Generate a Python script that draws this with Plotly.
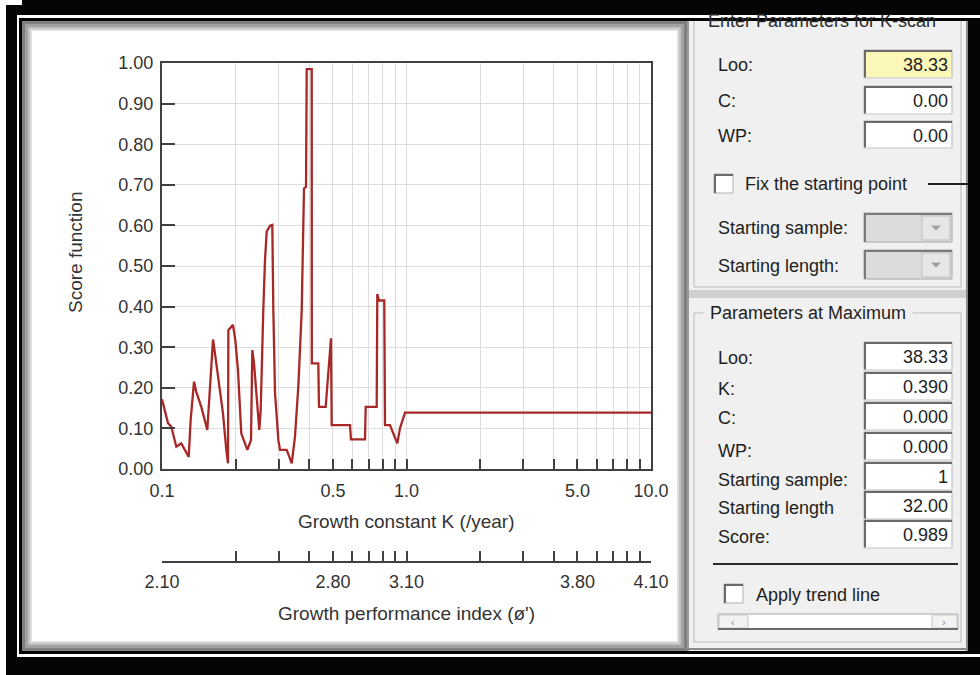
import plotly.graph_objects as go

W, H = 980, 675

# ---------------- data ----------------
K_VALUES = [0.1000, 0.1058, 0.1092, 0.1144, 0.1199, 0.1238, 0.1286, 0.1310, 0.1352, 0.1381,
            0.1448, 0.1532, 0.1567, 0.1591, 0.1617, 0.1643, 0.1694, 0.1776, 0.1832, 0.1862,
            0.1868, 0.1951, 0.1994, 0.2045, 0.2110, 0.2233, 0.2312, 0.2341, 0.2379, 0.2417,
            0.2463, 0.2500, 0.2533, 0.2557, 0.2596, 0.2638, 0.2681, 0.2765, 0.2826, 0.2853,
            0.2899, 0.2946, 0.2991, 0.3039, 0.3236, 0.3393, 0.3499, 0.3610, 0.3728, 0.3784,
            0.3809, 0.3882, 0.3907, 0.4096, 0.4100, 0.4358, 0.4386, 0.4672, 0.4716, 0.4788,
            0.4865, 0.4911, 0.4944, 0.5873, 0.5929, 0.6766, 0.6809, 0.7552, 0.7596, 0.7718,
            0.8112, 0.8166, 0.8559, 0.8831, 0.9170, 0.9405, 0.9703, 0.9860, 10.0]
SCORES = [0.172, 0.113, 0.104, 0.055, 0.063, 0.047, 0.030, 0.121, 0.215, 0.190,
          0.153, 0.096, 0.203, 0.268, 0.319, 0.289, 0.227, 0.137, 0.047, 0.014,
          0.342, 0.355, 0.318, 0.244, 0.088, 0.047, 0.071, 0.293, 0.260, 0.203,
          0.145, 0.096, 0.145, 0.260, 0.392, 0.515, 0.585, 0.599, 0.601, 0.392,
          0.187, 0.129, 0.071, 0.047, 0.047, 0.014, 0.080, 0.203, 0.392, 0.601,
          0.691, 0.695, 0.985, 0.985, 0.260, 0.260, 0.153, 0.153, 0.182, 0.236,
          0.293, 0.322, 0.108, 0.108, 0.073, 0.073, 0.153, 0.153, 0.431, 0.415,
          0.415, 0.108, 0.108, 0.088, 0.063, 0.100, 0.129, 0.139, 0.139]

Y_TICKS = [0.0, 0.1, 0.2, 0.3, 0.4, 0.5, 0.6, 0.7, 0.8, 0.9, 1.0]
Y_LABELS = ["0.00", "0.10", "0.20", "0.30", "0.40", "0.50", "0.60", "0.70", "0.80", "0.90", "1.00"]
K_TICKS = [0.1, 0.2, 0.3, 0.4, 0.5, 0.6, 0.7, 0.8, 0.9, 1, 2, 3, 4, 5, 6, 7, 8, 9, 10]
K_LABELS = ["0.1", "", "", "", "0.5", "", "", "", "", "1.0", "", "", "", "5.0", "", "", "", "", "10.0"]
PHI_LABELS = ["2.10", "", "", "", "2.80", "", "", "", "", "3.10", "", "", "", "3.80", "", "", "", "", "4.10"]

ENTER_LABELS = ["Loo:", "C:", "WP:"]
ENTER_VALUES = ["38.33", "0.00", "0.00"]
MAX_LABELS = ["Loo:", "K:", "C:", "WP:", "Starting sample:", "Starting length", "Score:"]
MAX_VALUES = ["38.33", "0.390", "0.000", "0.000", "1", "32.00", "0.989"]

FONT = "Liberation Sans, Arial, sans-serif"
TXT = "#333333"
AX = "#404040"
UI = 18

def X(p):
    return p / W

def Y(p):
    return 1 - p / H

shapes = []
annotations = []

def rect(x0, y0, x1, y1, fill, line=None, lw=0, layer="below"):
    shapes.append(dict(type="rect", xref="paper", yref="paper", x0=X(x0), x1=X(x1),
                       y0=Y(y1), y1=Y(y0), fillcolor=fill, layer=layer,
                       line=dict(color=line or fill, width=lw)))

def hline(x0, x1, y, color, lw=1, layer="below"):
    shapes.append(dict(type="line", xref="paper", yref="paper", x0=X(x0), x1=X(x1),
                       y0=Y(y), y1=Y(y), layer=layer, line=dict(color=color, width=lw)))

def vline(x, y0, y1, color, lw=1, layer="below"):
    shapes.append(dict(type="line", xref="paper", yref="paper", x0=X(x), x1=X(x),
                       y0=Y(y0), y1=Y(y1), layer=layer, line=dict(color=color, width=lw)))

def text(x, y, s, size=UI, color="#1e1e1e", xanchor="left", angle=0, bg=None):
    a = dict(xref="paper", yref="paper", x=X(x), y=Y(y), text=s, showarrow=False,
             xanchor=xanchor, yanchor="middle", textangle=angle,
             font=dict(family=FONT, size=size, color=color))
    if bg:
        a["bgcolor"] = bg
    annotations.append(a)

def tri_down(cx, cy, color):
    shapes.append(dict(type="path", xref="paper", yref="paper", layer="below",
                       path=f"M {X(cx-5)},{Y(cy-2)} L {X(cx+5)},{Y(cy-2)} L {X(cx)},{Y(cy+3)} Z",
                       fillcolor=color, line=dict(color=color, width=0)))

def textbox(x0, y0, x1, y1, fill, value):
    rect(x0, y0, x1, y1, fill, "#b4b4b4", 1)
    hline(x0, x1, y0 + 1, "#6a6a6a", 2)
    vline(x0 + 1, y0, y1, "#6a6a6a", 2)
    hline(x0, x1, y1, "#e6e6e6", 1)
    text(x1 - 2, (y0 + y1) / 2 + 1, value, xanchor="right")

def combo(x0, y0, x1, y1):
    rect(x0, y0, x1, y1, "#dcdcdc", "#a8a8a8", 1)
    hline(x0, x1, y0 + 1, "#7a7a7a", 2)
    vline(x0 + 1, y0, y1, "#7a7a7a", 2)
    rect(x1 - 30, y0 + 3, x1 - 2, y1 - 2, "#e6e6e6", "#c0c0c0", 1)
    tri_down(x1 - 16, (y0 + y1) / 2, "#a0a0a0")

def checkbox(x0, y0):
    rect(x0, y0, x0 + 19, y0 + 19, "#ffffff", "#b0b0b0", 1)
    hline(x0, x0 + 19, y0 + 1, "#6a6a6a", 2)
    vline(x0 + 1, y0, y0 + 19, "#6a6a6a", 2)

# ---------------- frame ----------------
rect(0, 0, 980, 675, "#ffffff")
rect(6, 5, 980, 675, "#050505")
hline(17, 980, 16.5, "#ffffff", 3)
vline(18, 16, 655, "#ffffff", 2)
hline(17, 980, 655.5, "#ffffff", 3)
# left panel bevel
rect(22, 21, 687, 651, "#7e7e7e")
rect(25, 24, 684, 648, "#a2a2a2")
rect(28, 27, 681, 645, "#c2c2c2")
rect(30, 29, 679, 643, "#dddddd")
rect(32, 31, 677, 641, "#ffffff")
# right panel
rect(687, 21, 968, 651, "#f0f0f0")
vline(688, 21, 651, "#9a9a9a", 2)
vline(967, 21, 651, "#8a8a8a", 2)
hline(687, 968, 649, "#8a8a8a", 2)

# group box 1 (Enter Parameters for K-scan)
vline(694, 21, 287, "#b9b9b9", 1)
vline(961, 21, 287, "#b9b9b9", 1)
hline(694, 961, 287, "#b9b9b9", 1)
rect(689, 290, 966, 298, "#d0d0d0")
text(706, 21, "Enter Parameters for K-scan", color="#2a2a2a")
rect(22, 0, 980, 15, "#050505", layer="above")

y_rows = [(50, 78), (86, 114), (121, 148)]
for lab, val, (a, b) in zip(ENTER_LABELS, ENTER_VALUES, y_rows):
    text(716, (a + b) / 2 + 1, lab)
    textbox(864, a, 952, b, "#fbf7b8" if lab == "Loo:" else "#ffffff", val)

checkbox(714, 174)
text(743, 184, "Fix the starting point")
hline(928, 968, 184, "#202020", 2)
text(716, 228, "Starting sample:")
combo(864, 213, 952, 242)
text(716, 266, "Starting length:")
combo(864, 250, 952, 279)

# group box 2 (Parameters at Maximum)
hline(694, 961, 313, "#b9b9b9", 1)
vline(694, 313, 642, "#b9b9b9", 1)
vline(961, 313, 642, "#b9b9b9", 1)
hline(694, 961, 642, "#b9b9b9", 1)
text(703, 313, " Parameters at Maximum ", bg="#f0f0f0")

max_rows = [(342, 370), (372, 400), (402, 430), (432, 460), (462, 490), (491, 519), (520, 548)]
label_dy = [2, 3, 2, 5, 4, 3, 3]
for lab, val, (a, b), d in zip(MAX_LABELS, MAX_VALUES, max_rows, label_dy):
    text(716, (a + b) / 2 + d, lab)
    textbox(864, a, 952, b, "#ffffff", val)

hline(713, 958, 564, "#2a2a2a", 2)
checkbox(724, 584)
text(754, 595, "Apply trend line")
rect(718, 614, 958, 629, "#ffffff", "#a8a8a8", 1)
rect(719, 615, 748, 628, "#f2f2f2", "#c8c8c8", 1)
rect(932, 615, 957, 628, "#f2f2f2", "#c8c8c8", 1)
hline(718, 958, 629, "#6a6a6a", 2)
text(733, 621.5, "‹", size=11, color="#909090", xanchor="center")
text(944, 621.5, "›", size=11, color="#909090", xanchor="center")

# chart titles
text(406, 521, "Growth constant K (/year)", size=19, color=TXT, xanchor="center")
text(406, 613, "Growth performance index (ø')", size=19, color=TXT, xanchor="center")
text(75, 253, "Score function", size=19, color=TXT, xanchor="center", angle=-90)

# ---------------- figure ----------------
fig = go.Figure()
fig.add_trace(go.Scatter(x=K_VALUES, y=SCORES, mode="lines",
                         line=dict(color="#a82828", width=2.3),
                         hoverinfo="x+y", showlegend=False))
fig.add_trace(go.Scatter(x=[K_TICKS[0], K_TICKS[-1]], y=[None, None], xaxis="x2",
                         mode="lines", showlegend=False, hoverinfo="skip"))

TICKFONT = dict(family=FONT, size=18, color=TXT)
XDOM = [X(162), X(651)]
fig.update_layout(
    width=W, height=H, autosize=False,
    margin=dict(l=0, r=0, t=0, b=0, pad=0, autoexpand=False),
    paper_bgcolor="#ffffff", plot_bgcolor="rgba(0,0,0,0)",
    font=dict(family=FONT, size=17, color=TXT),
    xaxis=dict(type="log", range=[-1, 1], domain=XDOM, anchor="y", automargin=False,
               showgrid=True, gridcolor="#dedede", gridwidth=1,
               showline=True, linecolor=AX, linewidth=2, mirror=True,
               ticks="inside", ticklen=10, tickwidth=2, tickcolor=AX,
               tickmode="array", tickvals=K_TICKS, ticktext=K_LABELS, tickfont=TICKFONT,
               ticklabelstandoff=4, zeroline=False),
    xaxis2=dict(type="log", range=[-1, 1], overlaying="x", anchor="free", automargin=False,
                position=Y(562), side="bottom", showgrid=False,
                showline=True, linecolor=AX, linewidth=2,
                ticks="inside", ticklen=10, tickwidth=2, tickcolor=AX,
                tickmode="array", tickvals=K_TICKS, ticktext=PHI_LABELS, tickfont=TICKFONT,
                ticklabelstandoff=3, zeroline=False),
    yaxis=dict(range=[0, 1], domain=[Y(469), Y(63)], anchor="x", automargin=False,
               showgrid=True, gridcolor="#dedede", gridwidth=1,
               showline=True, linecolor=AX, linewidth=2, mirror=True,
               ticks="inside", ticklen=13, tickwidth=2, tickcolor=AX,
               tickmode="array", tickvals=Y_TICKS, ticktext=Y_LABELS, tickfont=TICKFONT,
               ticklabelstandoff=3, zeroline=False),
    shapes=shapes,
    annotations=annotations,
)

fig.write_html("out.html")
